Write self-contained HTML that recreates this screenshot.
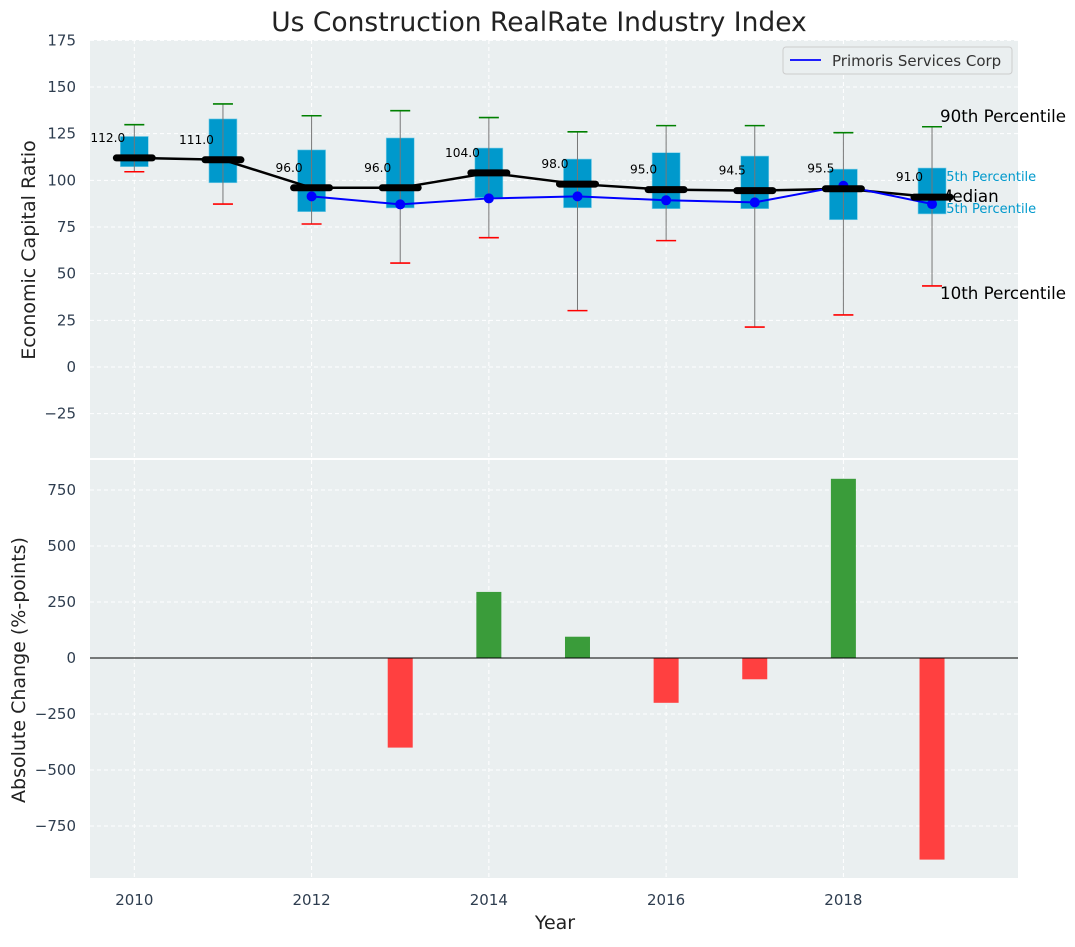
<!DOCTYPE html>
<html><head><meta charset="utf-8"><style>
body{margin:0;background:#fff;}
svg text{font-family:"DejaVu Sans","Liberation Sans",sans-serif;}
</style></head><body>
<svg id="c" width="1075" height="942" xmlns="http://www.w3.org/2000/svg"></svg>
<script>
const years=[2010,2011,2012,2013,2014,2015,2016,2017,2018,2019];
const q1=[107.3,98.7,83.2,85.2,90.7,85.3,84.8,84.8,78.9,82];
const q3=[123.5,132.9,116.3,122.7,117.3,111.4,114.8,113,106,106.6];
const p10=[104.6,87.3,76.6,55.7,69.3,30.2,67.7,21.4,27.9,43.4];
const p90=[129.8,140.9,134.6,137.3,133.6,126,129.3,129.3,125.5,128.7];
const medians=[112,111,96,96,104,98,95,94.5,95.5,91];
const blueYears=[2012,2013,2014,2015,2016,2017,2018,2019];
const blueVals=[91.4,87.1,90.3,91.4,89.3,88.2,97.1,87.3];
const changes=[null,null,null,-400,295,95,-200,-95,800,-900];
const topTicks=[-25,0,25,50,75,100,125,150,175];
const botTicks=[-750,-500,-250,0,250,500,750];
const xTicks=[2010,2012,2014,2016,2018];

const NS="http://www.w3.org/2000/svg";
const svg=document.getElementById('c');
function el(t,a,p){const e=document.createElementNS(NS,t);for(const k in a)e.setAttribute(k,a[k]);(p||svg).appendChild(e);return e;}
const L=90,R=1018;
const x=v=>L+(v-2009.5)/(2019.97-2009.5)*(R-L);
const yT=v=>367-v*1.8667;
const yB=v=>658-v*0.224;

let e=el('rect',{x:L,y:40,width:R-L,height:418,fill:'#eaeff0'});

e=el('rect',{x:L,y:460,width:R-L,height:418,fill:'#eaeff0'});


for(const t of topTicks){
  e=el('line',{x1:L,x2:R,y1:yT(t),y2:yT(t),stroke:'#fff','stroke-dasharray':'4,3','stroke-width':1});
  
  e=el('text',{x:76,y:yT(t)+5,'text-anchor':'end','font-size':15,fill:'#2e3d4f'});e.textContent=t<0?'\u2212'+(-t):t;
  
}
for(const t of botTicks){
  e=el('line',{x1:L,x2:R,y1:yB(t),y2:yB(t),stroke:'#fff','stroke-dasharray':'4,3','stroke-width':1});
  
  e=el('text',{x:76,y:yB(t)+5,'text-anchor':'end','font-size':15,fill:'#2e3d4f'});e.textContent=t<0?'\u2212'+(-t):t;
  
}
for(const t of xTicks){
  e=el('line',{x1:x(t),x2:x(t),y1:40,y2:458,stroke:'#fff','stroke-dasharray':'4,3'});
  
  e=el('line',{x1:x(t),x2:x(t),y1:460,y2:878,stroke:'#fff','stroke-dasharray':'4,3'});
  
  e=el('text',{x:x(t),y:905,'text-anchor':'middle','font-size':15,fill:'#2e3d4f'});e.textContent=t;
  
}

const last=years.length-1, ax=x(years[last])+8;
const anns=[['90th Percentile',yT(p90[last])-5,16.7,'#000'],['75th Percentile',yT(q3[last])+13,13,'#0099cc'],['Median',yT(medians[last])+5,16.7,'#000'],['25th Percentile',yT(q1[last])-1,13,'#0099cc'],['10th Percentile',yT(p10[last])+13,16.7,'#000']];
for(const a of anns){e=el('text',{x:a[0].startsWith('Median')||a[2]<14?ax-2:ax,y:a[1],'font-size':a[2],fill:a[3]});e.textContent=a[0];
  }

const bw=28;
years.forEach((yr,i)=>{
  const cx=x(yr);
  e=el('rect',{x:cx-bw/2,y:yT(q3[i]),width:bw,height:yT(q1[i])-yT(q3[i]),fill:'#0099cc',stroke:'#7fd0e8','stroke-width':0.6});
  
  e=el('line',{x1:cx,x2:cx,y1:yT(p10[i]),y2:yT(p90[i]),stroke:'#777','stroke-width':1});
  
  e=el('line',{x1:cx-10,x2:cx+10,y1:yT(p90[i]),y2:yT(p90[i]),stroke:'green','stroke-width':1.6});
  
  e=el('line',{x1:cx-10,x2:cx+10,y1:yT(p10[i]),y2:yT(p10[i]),stroke:'red','stroke-width':1.6});
  
});
e=el('polyline',{points:years.map((yr,i)=>x(yr)+','+yT(medians[i])).join(' '),fill:'none',stroke:'#000','stroke-width':2.5});

e=el('polyline',{points:blueYears.map((yr,i)=>x(yr)+','+yT(blueVals[i])).join(' '),fill:'none',stroke:'#0000ff','stroke-width':2});

blueYears.forEach((yr,i)=>{e=el('circle',{cx:x(yr),cy:yT(blueVals[i]),r:5,fill:'#0000ff'});
  });
years.forEach((yr,i)=>{
  const cx=x(yr);
  e=el('line',{x1:cx-18,x2:cx+18,y1:yT(medians[i]),y2:yT(medians[i]),stroke:'#000','stroke-width':7,'stroke-linecap':'round'});
  
  e=el('text',{x:cx-9,y:yT(medians[i])-16,'text-anchor':'end','font-size':12.2,fill:'#000'});e.textContent=medians[i].toFixed(1);
  
});

const lg=el('g',{});
el('rect',{x:783,y:47,width:229,height:27,rx:3,fill:'#eaeff0',stroke:'#ccc'},lg);
el('line',{x1:790,x2:821,y1:60,y2:60,stroke:'#0000ff','stroke-width':1.8},lg);
e=el('text',{x:832,y:66,'font-size':15,fill:'#333'},lg);e.textContent='Primoris Services Corp';

years.forEach((yr,i)=>{
  const v=changes[i]; if(v===null)return;
  e=el('rect',{x:x(yr)-12.5,y:Math.min(yB(v),yB(0)),width:25,height:Math.abs(yB(v)-yB(0)),fill:v>=0?'#3a9c3a':'#ff4040'});
  
});
e=el('line',{x1:L,x2:R,y1:yB(0),y2:yB(0),stroke:'#000','stroke-width':1});


e=el('text',{x:539,y:31,'text-anchor':'middle','font-size':26.5,fill:'#222'});e.textContent='Us Construction RealRate Industry Index';

e=el('text',{x:555,y:929,'text-anchor':'middle','font-size':19,fill:'#222'});e.textContent='Year';

e=el('text',{x:0,y:0,'text-anchor':'middle','font-size':19,fill:'#222',transform:'translate(35,250) rotate(-90)'});e.textContent='Economic Capital Ratio';

e=el('text',{x:0,y:0,'text-anchor':'middle','font-size':19,fill:'#222',transform:'translate(25,670) rotate(-90)'});e.textContent='Absolute Change (%-points)';

</script>
</body></html>
